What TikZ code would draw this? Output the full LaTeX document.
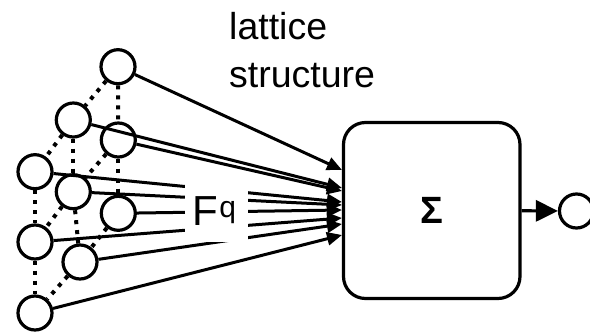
\documentclass[tikz,border=0pt]{standalone}
\usepackage{fontspec}
\setmainfont{Liberation Sans}
\usetikzlibrary{arrows.meta}
\begin{document}
\begin{tikzpicture}[x=1pt,y=-1pt,
  unit/.style={circle, draw, line width=3.2pt, minimum size=34pt, inner sep=0pt},
  lat/.style={line width=4pt, dash pattern=on 4pt off 6pt},
  conn/.style={line width=3pt, -{Triangle[length=15pt,width=13pt]}},
  outarr/.style={line width=3.2pt, -{Triangle[length=22pt,width=21pt]}},
  sumbox/.style={draw, line width=3.2pt, rounded corners=22pt, minimum width=176.5pt, minimum height=176pt, inner sep=0pt},
  cover/.style={fill=white, inner sep=0pt, minimum width=63pt, minimum height=64pt}
]
\useasboundingbox (0,0) rectangle (590,333);
% lattice units
\node[unit] (A) at (118,66.7) {};
\node[unit] (B) at (73.3,120) {};
\node[unit] (C) at (118.3,140) {};
\node[unit] (D) at (35,171.7) {};
\node[unit] (E) at (73.3,191.7) {};
\node[unit] (F) at (118.3,213.3) {};
\node[unit] (G) at (35,242) {};
\node[unit] (H) at (80,262) {};
\node[unit] (I) at (35,313) {};
% lattice links
\draw[lat] (A) -- (B);
\draw[lat] (A) -- (C);
\draw[lat] (B) -- (D);
\draw[lat] (B) -- (E);
\draw[lat] (C) -- (E);
\draw[lat] (C) -- (F);
\draw[lat] (D) -- (G);
\draw[lat] (E) -- (G);
\draw[lat] (E) -- (H);
\draw[lat] (F) -- (H);
\draw[lat] (G) -- (I);
\draw[lat] (H) -- (I);
% summation box
\node[sumbox, font=\fontsize{38}{38}\selectfont\bfseries] (S) at (431.75,210.5) {\raisebox{-3pt}{Σ}};
% arrow targets on the box side
\coordinate (tA) at (342,170);
\coordinate (tB) at (342,188);
\coordinate (tC) at (342,191);
\coordinate (tD) at (342,202);
\coordinate (tE) at (342,205);
\coordinate (tF) at (342,210);
\coordinate (tG) at (342,218);
\coordinate (tH) at (342,224);
\coordinate (tI) at (342,235);
\draw[conn] (A) -- (tA);
\draw[conn] (B) -- (tB);
\draw[conn] (C) -- (tC);
\draw[conn] (D) -- (tD);
\draw[conn] (E) -- (tE);
\draw[conn] (F) -- (tF);
\draw[conn] (G) -- (tG);
\draw[conn] (H) -- (tH);
\draw[conn] (I) -- (tI);
% F^q label
\node[cover] (Fqbg) at (216.5,210) {};
\node[anchor=base west, inner sep=0pt, font=\fontsize{42}{42}\selectfont] (Fq) at (192,225) {F\kern1.5pt\raisebox{8pt}{\fontsize{30}{30}\selectfont q}};
% output
\node[unit] (out) at (576.5,211) {};
\draw[outarr] (S) -- (out);
% caption
\node[anchor=north west, inner sep=0pt, align=left, font=\fontsize{37.5}{48}\selectfont] (cap) at (229,12.5) {lattice\\structure};
\end{tikzpicture}
\end{document}
